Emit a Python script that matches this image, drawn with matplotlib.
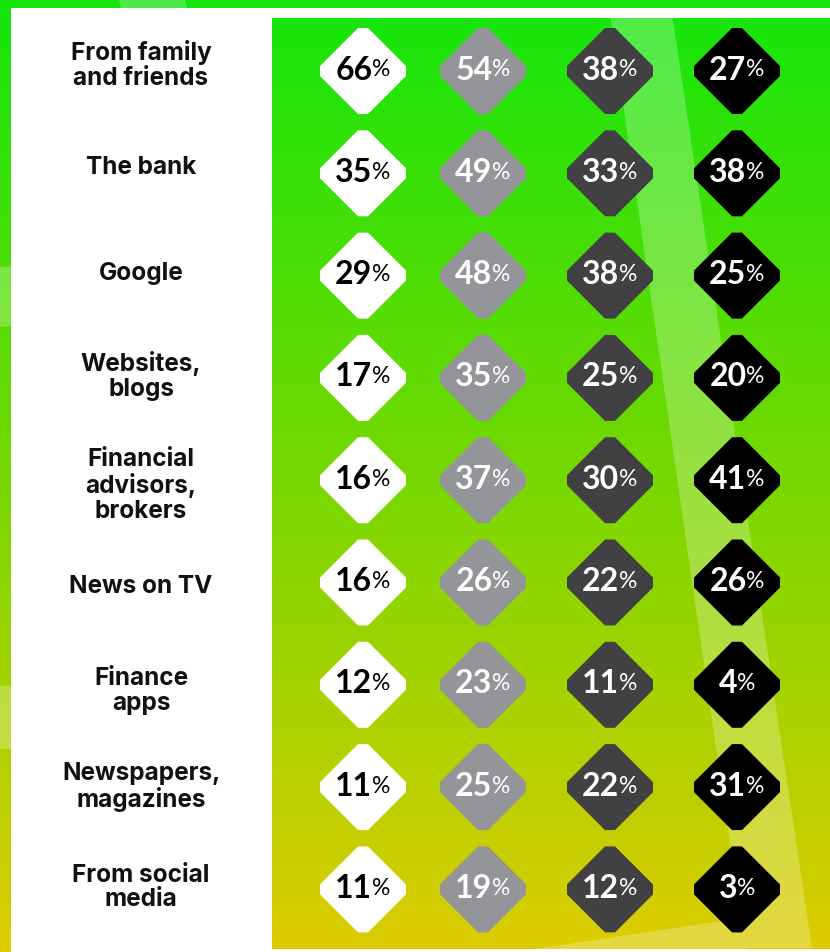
import numpy as np
import matplotlib.pyplot as plt
from matplotlib.patches import Polygon, Rectangle

sources = [
    "From family\nand friends",
    "The bank",
    "Google",
    "Websites,\nblogs",
    "Financial\nadvisors,\nbrokers",
    "News on TV",
    "Finance\napps",
    "Newspapers,\nmagazines",
    "From social\nmedia",
]
group_a = [66, 35, 29, 17, 16, 16, 12, 11, 11]
group_b = [54, 49, 48, 35, 37, 26, 23, 25, 19]
group_c = [38, 33, 38, 25, 30, 22, 11, 22, 12]
group_d = [27, 38, 25, 20, 41, 26, 4, 31, 3]

groups = [group_a, group_b, group_c, group_d]
fills = ["#ffffff", "#939598", "#414042", "#000000"]
ink = ["#000000", "#ffffff", "#ffffff", "#ffffff"]

W, H = 830, 952
col_x = [363, 483, 610, 737]
row_y0, row_step = 71, 102.3
label_dy = [-6, -6, -2, -2, 5, 4, 6, 0, -2]
half, cut = 43, 5

# vertical green -> yellow wash
stops = np.array([0.0, 0.5, 1.0])
stop_rgb = np.array([[20, 230, 12], [118, 216, 0], [222, 204, 0]]) / 255


def wash(y0, y1, n=400):
    t = np.linspace(y0, y1, n) / H
    rgb = np.stack([np.interp(t, stops, stop_rgb[:, k]) for k in range(3)], axis=1)
    return rgb[:, None, :]


fig = plt.figure(figsize=(W / 100, H / 100), dpi=100)
ax = fig.add_axes([0, 0, 1, 1])
ax.axis("off")

ax.imshow(wash(0, H), extent=(0, W, H, 0), aspect="auto", zorder=0)

# light streaks around the card edge
for pts in [
    [(119, 0), (185, 0), (190, 20), (124, 20)],
    [(0, 267), (20, 265), (20, 325), (0, 327)],
    [(0, 686), (20, 686), (20, 749), (0, 749)],
]:
    ax.add_patch(Polygon(pts, closed=True, fc="white", ec="none", alpha=0.25, zorder=1))

ax.add_patch(Rectangle((11, 8), W - 11, H - 8, fc="white", ec="none", zorder=2))

px0, py0, py1 = 272, 18, 949
ax.imshow(wash(py0, py1), extent=(px0, W, py1, py0), aspect="auto", zorder=3)

clip = Rectangle((px0, py0), W - px0, py1 - py0, transform=ax.transData)
beam = Polygon([(608, 0), (670, 0), (812, 948), (745, 948)], closed=True,
               fc="white", ec="none", alpha=0.25, zorder=4)
wedge = Polygon([(515, 952), (741, 918), (746, 952)], closed=True,
                fc="white", ec="none", alpha=0.25, zorder=4)
for p in (beam, wedge):
    ax.add_patch(p)
    p.set_clip_path(clip)

renderer = fig.canvas.get_renderer()

for i, label in enumerate(sources):
    cy = row_y0 + i * row_step
    ax.text(141, cy + label_dy[i], label, ha="center", va="center",
            multialignment="center", fontsize=17.5, fontweight="bold",
            family="Inter", linespacing=1.1, color="#111111", zorder=6)

    for j, vals in enumerate(groups):
        cx = col_x[j]
        shape = [
            (cx - half, cy - cut), (cx - half, cy + cut),
            (cx - cut, cy + half), (cx + cut, cy + half),
            (cx + half, cy + cut), (cx + half, cy - cut),
            (cx + cut, cy - half), (cx - cut, cy - half),
        ]
        ax.add_patch(Polygon(shape, closed=True, fc=fills[j], ec="none", zorder=5))

        num = ax.text(cx, cy - 1, str(vals[i]), ha="right", va="center",
                      fontsize=23, fontweight="bold", family="Lato",
                      color=ink[j], zorder=6)
        pct = ax.text(cx, cy - 1, "%", ha="left", va="center",
                      fontsize=16.5, family="Lato", color=ink[j], zorder=6)
        w1 = num.get_window_extent(renderer).width
        w2 = pct.get_window_extent(renderer).width
        shift = (w1 - w2) / 2
        num.set_x(cx + shift)
        pct.set_x(cx + shift)

ax.set_xlim(0, W)
ax.set_ylim(H, 0)
fig.savefig("out.png", dpi=100)
